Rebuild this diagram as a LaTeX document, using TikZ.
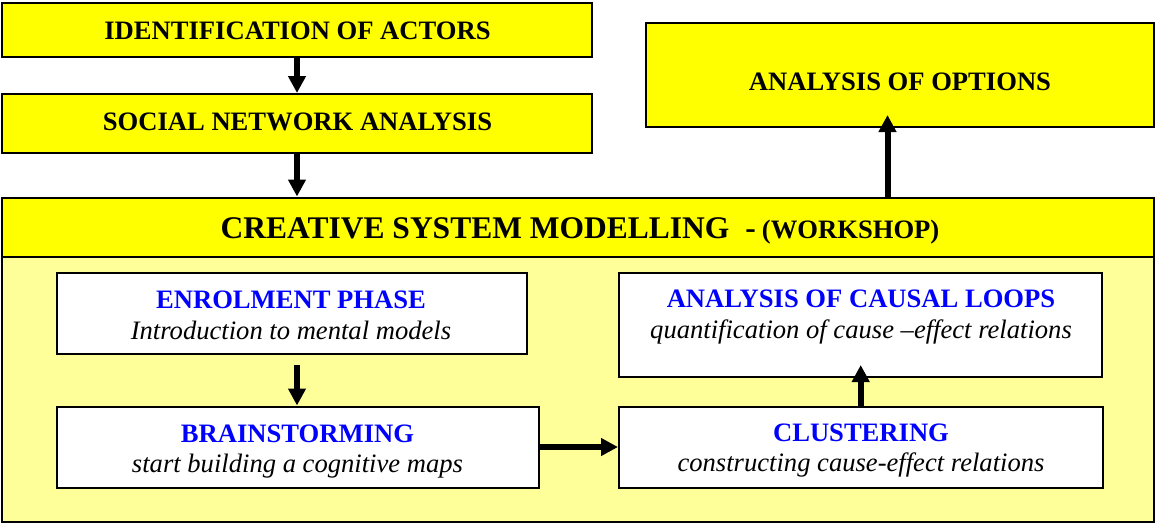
\documentclass[tikz,border=0pt]{standalone}
\usepackage{fontspec}
\setmainfont{Liberation Serif}
\usetikzlibrary{arrows.meta}
\definecolor{hdr}{HTML}{FFFF00}
\definecolor{bodyfill}{HTML}{FFFF99}
\definecolor{ttl}{HTML}{0000FF}
\begin{document}
\begin{tikzpicture}[x=1pt,y=-1pt,
  ybox/.style={draw=black, line width=2pt, fill=hdr, inner sep=0pt, rectangle},
  wbox/.style={draw=black, line width=2pt, fill=white, inner sep=0pt, rectangle},
  bigtxt/.style={font=\fontsize{26.6}{30}\selectfont\bfseries, anchor=base, inner sep=0pt},
  ttltxt/.style={font=\fontsize{26.6}{30}\selectfont\bfseries, text=ttl, anchor=base, inner sep=0pt},
  subtxt/.style={font=\fontsize{26.6}{30}\selectfont\itshape, anchor=base, inner sep=0pt},
  flow/.style={line width=6pt, -{Triangle[length=17pt,width=17pt]}}
]
\useasboundingbox[fill=white] (0,0) rectangle (1155,523);

% top boxes
\node[ybox, minimum width=590pt, minimum height=54pt] (actors) at (297,30) {};
\node[ybox, minimum width=590pt, minimum height=59pt] (sna) at (297,123.5) {};
\node[ybox, minimum width=508pt, minimum height=104pt] (options) at (900,75) {};
\node[bigtxt] (actorsT) at (297.5,39) {IDENTIFICATION OF ACTORS};
\node[bigtxt] (snaT) at (297.5,130) {SOCIAL NETWORK ANALYSIS};
\node[bigtxt] (optionsT) at (900,90) {ANALYSIS OF OPTIONS};

% workshop frame
\node[draw=black, line width=2pt, fill=bodyfill, inner sep=0pt, minimum width=1152pt, minimum height=265pt] (body) at (578,389) {};
\node[ybox, minimum width=1152pt, minimum height=59pt] (header) at (578,227) {};
\node[anchor=base, inner sep=0pt] (headerT) at (580,238) {\bfseries{\fontsize{31.5}{36}\selectfont CREATIVE SYSTEM MODELLING\hspace{16pt}-\hspace{6pt}}{\fontsize{26.6}{30}\selectfont(WORKSHOP)}};

% inner boxes
\node[wbox, minimum width=470pt, minimum height=81pt] (enrol) at (292,313.5) {};
\node[wbox, minimum width=482pt, minimum height=81pt] (brain) at (298,447) {};
\node[wbox, minimum width=483pt, minimum height=104pt] (loops) at (860.5,325) {};
\node[wbox, minimum width=484pt, minimum height=81pt] (clust) at (861,447) {};

\node[ttltxt] (enrolT) at (291,308) {ENROLMENT PHASE};
\node[subtxt] (enrolS) at (291,339) {Introduction to mental models};
\node[ttltxt] (brainT) at (297.5,442) {BRAINSTORMING};
\node[subtxt] (brainS) at (297.5,472.5) {start building a cognitive maps};
\node[ttltxt] (loopsT) at (861,307.5) {ANALYSIS OF CAUSAL LOOPS};
\node[subtxt] (loopsS) at (861,338.5) {quantification of cause –effect relations};
\node[ttltxt] (clustT) at (861,441.7) {CLUSTERING};
\node[subtxt] (clustS) at (861,471) {constructing cause-effect relations};

% connectors
\coordinate (optTip) at (887.5,115);
\coordinate (enrolOut) at (297,365);
\coordinate (loopTip) at (860.7,365);
\draw[flow] (actors.south) -- (sna.north);
\draw[flow] (sna.south) -- (header.north -| sna.south);
\draw[flow] (header.north -| optTip) -- (optTip);
\draw[flow] (enrolOut) -- (brain.north -| enrolOut);
\draw[flow] (brain.east) -- (clust.west);
\draw[flow] (clust.north -| loopTip) -- (loopTip);
\end{tikzpicture}
\end{document}
